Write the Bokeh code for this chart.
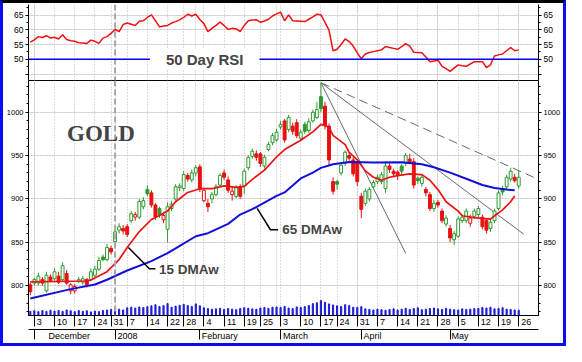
import math
from bokeh.plotting import figure
from bokeh.models import Range1d, LinearAxis, FixedTicker, Grid, Span, Label, ColumnDataSource
from bokeh.layouts import column
from bokeh.embed import file_html
from bokeh.resources import INLINE

# ---------------- data (trading-day index 0 = 3 Dec 2007) ----------------
day_index = list(range(-1, 121))
open_ = [801,
         803, 803, 807, 794, 810, 808, 811, 807, 814, 794,
         794, 805, 804, 807, 807, 812, 819, 833, 830, 843,
         851, 864, 866, 868, 875, 879, 879, 891, 911, 907,
         893, 889, 876, 865, 889, 900, 913, 912, 927, 922,
         930, 937, 898, 895, 900, 905, 916, 930, 922, 905,
         903, 914, 915, 936, 949, 952, 952, 938, 957, 965,
         968, 983, 990, 980, 984, 988, 970, 986, 979, 990,
         994, 1018, 1007, 984, 920, 920, 930, 941, 950, 945,
         943, 903, 895, 900, 914, 920, 920, 912, 938, 932,
         931, 938, 941, 946, 943, 924, 918, 911, 905, 889,
         896, 886, 871, 866, 853, 857, 875, 875, 872, 880,
         882, 879, 875, 866, 875, 889, 912, 914, 923, 925,
         915]
high = [804,
        809, 815, 810, 816, 813, 820, 816, 827, 818, 803,
        802, 810, 811, 809, 820, 823, 833, 836, 848, 846,
        866, 872, 870, 871, 886, 885, 900, 902, 916, 910,
        895, 891, 885, 896, 898, 917, 918, 932, 930, 934,
        939, 940, 913, 900, 908, 917, 930, 934, 926, 914,
        916, 917, 935, 950, 958, 956, 954, 951, 966, 976,
        981, 990, 992, 997, 988, 992, 980, 989, 993, 1003,
        1012, 1034, 1012, 987, 925, 922, 942, 956, 954, 948,
        946, 907, 912, 914, 922, 928, 931, 942, 941, 935,
        933, 940, 953, 952, 947, 926, 928, 914, 908, 899,
        899, 889, 881, 870, 863, 880, 882, 889, 882, 889,
        892, 882, 878, 876, 889, 910, 915, 928, 936, 929,
        933]
low = [789,
       800, 800, 800, 792, 804, 806, 802, 805, 801, 790,
       791, 803, 801, 798, 805, 810, 817, 828, 828, 836,
       849, 860, 859, 856, 872, 875, 877, 888, 903, 890,
       876, 878, 872, 850, 886, 898, 909, 909, 920, 919,
       926, 908, 896, 885, 895, 903, 914, 922, 907, 898,
       901, 900, 906, 933, 946, 944, 937, 935, 955, 962,
       966, 980, 965, 977, 974, 970, 967, 975, 976, 988,
       992, 1000, 980, 938, 905, 911, 927, 938, 944, 926,
       915, 878, 892, 897, 911, 917, 917, 907, 930, 925,
       922, 928, 938, 940, 912, 917, 914, 903, 886, 885,
       890, 872, 868, 850, 847, 855, 872, 872, 868, 877,
       879, 865, 860, 862, 872, 887, 904, 911, 920, 919,
       912]
close = [793,
         807, 811, 803, 812, 806, 816, 804, 823, 803, 801,
         799, 807, 808, 801, 816, 819, 829, 830, 844, 839,
         862, 868, 863, 859, 883, 882, 897, 898, 906, 893,
         879, 882, 881, 891, 894, 914, 915, 928, 923, 930,
         936, 911, 910, 891, 905, 914, 927, 925, 910, 909,
         913, 903, 932, 948, 955, 948, 941, 948, 963, 973,
         977, 986, 968, 994, 978, 973, 977, 978, 989, 1000,
         1003, 1004, 985, 945, 909, 917, 939, 954, 947, 929,
         920, 888, 909, 911, 919, 925, 928, 938, 934, 929,
         927, 932, 950, 943, 916, 921, 925, 907, 889, 895,
         893, 875, 878, 855, 860, 877, 879, 886, 878, 886,
         889, 868, 864, 873, 886, 907, 908, 925, 932, 921,
         925]
volume_k = [30,
            34, 28, 36, 30, 38, 32, 36, 30, 40, 34,
            28, 36, 30, 34, 26, 32, 28, 36, 40, 44,
            52, 46, 40, 56, 60, 54, 62, 58, 64, 70,
            78, 66, 72, 86, 60, 68, 74, 80, 72, 66,
            84, 70, 56, 50, 46, 48, 52, 44, 50, 46,
            42, 50, 56, 52, 48, 46, 54, 58, 52, 60,
            62, 58, 66, 54, 50, 62, 58, 64, 72, 86,
            92, 108, 96, 84, 76, 70, 66, 78, 72, 60,
            58, 64, 48, 44, 40, 46, 42, 38, 44, 48,
            40, 46, 52, 44, 50, 56, 42, 46, 50, 54,
            48, 44, 52, 46, 42, 40, 48, 44, 46, 50,
            52, 58, 54, 60, 48, 52, 56, 46, 44, 40,
            38]

rsi_val = [55.8,
           56.6, 57.7, 57.4, 58.0, 57.2, 57.5, 56.9, 58.3, 56.7, 56.3,
           56.1, 55.6, 55.5, 55.4, 56.5, 56.1, 55.4, 57.2, 57.7, 58.8,
           60.1, 59.4, 61.8, 62.3, 61.9, 61.5, 62.9, 63.1, 64.2, 65.1,
           63.1, 61.0, 61.3, 61.5, 62.3, 62.8, 63.4, 64.2, 65.3, 64.7,
           65.3, 63.5, 62.1, 59.4, 60.5, 61.5, 62.6, 61.5, 60.1, 60.5,
           60.3, 59.4, 61.5, 63.1, 63.3, 63.4, 62.6, 63.0, 63.6, 64.7,
           65.4, 66.0, 63.1, 65.1, 63.1, 63.0, 62.9, 62.8, 63.6, 64.4,
           65.3, 65.1, 62.5, 59.9, 52.9, 53.4, 55.0, 56.9, 56.0, 54.5,
           52.2, 50.2, 51.8, 52.3, 52.6, 52.9, 53.2, 54.3, 54.0, 53.7,
           53.4, 54.3, 55.3, 54.5, 52.4, 52.3, 52.2, 50.8, 49.2, 49.4,
           49.7, 47.6, 46.8, 45.9, 47.0, 48.1, 47.8, 47.6, 48.4, 49.2,
           49.2, 49.2, 47.2, 48.1, 51.1, 51.5, 51.8, 52.9, 54.0, 52.9,
           53.2]

ma15_idx = [-1, 13, 14, 18, 21, 23, 26, 29, 31, 33, 35, 38, 41, 44, 47, 50, 52, 54, 57, 60,
            62, 66, 69, 71, 73, 74, 77, 78, 80, 82, 84, 86, 88, 90, 93, 96, 98, 100, 102,
            105, 106, 109, 111, 113, 114, 116, 118, 119]
ma15_val = [804.3, 805.4, 806.5, 816.1, 830.1, 844.1, 862.4, 876.3, 881.0, 886.0, 896.8, 907.5,
            911.8, 911.8, 915.1, 913.4, 914.5, 922.6, 933.3, 948.4, 957.0, 967.7, 977.4, 986.0,
            982.8, 973.4, 962.7, 953.8, 945.2, 932.3, 925.0, 921.5, 925.0, 926.9, 929.0, 928.0,
            921.5, 910.8, 896.8, 886.0, 880.6, 878.5, 877.7, 876.7, 880.6, 887.4, 896.8, 903.5]
ma65_idx = [-1, 9, 15, 18, 23, 29, 33, 35, 40, 43, 48, 51, 54, 60, 62, 66, 69, 71, 74, 78,
            84, 91, 96, 99, 103, 107, 111, 114, 117, 119]
ma65_val = [785.3, 796.0, 801.4, 806.8, 817.5, 828.3, 837.6, 843.0, 857.0, 860.5, 871.3, 882.0,
            888.2, 903.5, 907.5, 923.7, 930.4, 935.8, 940.1, 942.5, 942.0, 942.3, 940.1, 936.6,
            930.4, 923.3, 916.1, 912.6, 910.8, 910.0]

week_ticks = [0, 5, 10, 15, 19, 23, 28, 33, 37, 42, 47, 52, 56, 61, 66, 71, 75, 80, 85, 90,
              95, 100, 105, 110, 115, 120]
week_labels = ["3", "10", "17", "24", "31", "7", "14", "22", "28", "4", "11", "19", "25", "3",
               "10", "17", "24", "31", "7", "14", "21", "28", "5", "12", "19", "26"]
month_ticks = [0, 20, 41, 61, 81, 103]
month_labels = ["December", "2008", "February", "March", "April", "May"]
year_start = 20

price_ticks = [800, 850, 900, 950, 1000]
rsi_ticks = [45, 50, 55, 60, 65]

trend_from = (71, 1034)
trend_to = [(92.0, 837.3), (121.2, 859.5)]
trend_dashed_to = (124.0, 924.4)

# ---------------- styling ----------------
FONT = "Liberation Sans"
GREEN = "#2f9a2f"
RED = "#e81010"
MA_RED = "#ee1111"
MA_BLUE = "#1010d8"
GRID = "#b8b8b8"
W = 560
LB, RB = 24, 24

W_EM = {**{d: 0.556 for d in "0123456789"}, "D": .722, "e": .556, "c": .5, "m": .833,
        "b": .556, "r": .333, "F": .611, "u": .556, "a": .556, "y": .5, "M": .833,
        "h": .556, "A": .667, "p": .556, "i": .222, "l": .222}


def lpad(s, size, gap=2.0):
    w = sum(W_EM.get(ch, .55) for ch in s) * size
    n = max(0, int(round((w + 2 * gap) / (0.278 * size))))
    return "\u00a0" * n + s


def style_axis(ax, size):
    ax.axis_line_color = "black"
    ax.major_tick_line_color = "black"
    ax.minor_tick_line_color = "black"
    ax.major_tick_in = 0
    ax.major_tick_out = 3
    ax.minor_tick_in = 0
    ax.minor_tick_out = 2
    ax.major_label_text_font = FONT
    ax.major_label_text_font_size = size
    ax.major_label_text_color = "black"
    ax.major_label_standoff = 2


xr = Range1d(-1.45, 124.9)

# ---------------- RSI panel ----------------
rsi = figure(width=W, height=77, x_range=xr, y_range=Range1d(42.8, 68.6),
             output_backend="svg", toolbar_location=None,
             x_axis_location=None, y_axis_location=None,
             min_border_left=LB, min_border_right=RB, min_border_top=1, min_border_bottom=0,
             outline_line_color=None, background_fill_color="white",
             border_fill_color="white")
rsi.add_layout(Grid(dimension=0, ticker=FixedTicker(ticks=week_ticks), grid_line_color=GRID,
                    grid_line_dash="1 2"))
rsi.add_layout(Grid(dimension=1, ticker=FixedTicker(ticks=[t for t in rsi_ticks if t != 50]),
                    grid_line_color=GRID, grid_line_dash="1 2"))
for side in ("left", "right"):
    ax = LinearAxis(ticker=FixedTicker(ticks=rsi_ticks,
                                       minor_ticks=[t + 2.5 for t in rsi_ticks[:-1]] + [42.5, 67.5]),
                    major_label_overrides={45: ""})
    style_axis(ax, "8.5px")
    rsi.add_layout(ax, side)
rsi.add_layout(Span(location=year_start, dimension="height", line_color="#a8a8a8",
                    line_dash="6 3", line_width=2))
rsi.add_layout(Span(location=50, dimension="width", line_color="#0000ff", line_width=1.6))
rsi.line(day_index, rsi_val, color=MA_RED, line_width=1.5)
rsi.add_layout(Label(x=42.2, y=50, text="50 Day RSI", text_font=FONT, text_font_size="15px",
                     text_font_style="bold", text_align="center", text_baseline="middle",
                     background_fill_color="white", padding=(16, 2)))

# ---------------- price panel ----------------
price = figure(width=W, height=263, x_range=xr, y_range=Range1d(765.6, 1036.6),
               output_backend="svg", toolbar_location=None,
               x_axis_location=None, y_axis_location=None,
               min_border_left=LB, min_border_right=RB, min_border_top=0, min_border_bottom=0,
               outline_line_color="black", background_fill_color="white",
               border_fill_color="white")
price.extra_y_ranges = {"vol": Range1d(0, 1700)}
price.add_layout(Grid(dimension=0, ticker=FixedTicker(ticks=week_ticks), grid_line_color=GRID,
                      grid_line_dash="1 2"))
price.add_layout(Grid(dimension=1, ticker=FixedTicker(ticks=price_ticks), grid_line_color=GRID,
                      grid_line_dash="1 2"))
for side in ("left", "right"):
    ax = LinearAxis(ticker=FixedTicker(ticks=price_ticks,
                                       minor_ticks=list(range(770, 1040, 10))))
    style_axis(ax, "7.5px")
    price.add_layout(ax, side)

day_axis = LinearAxis(ticker=FixedTicker(ticks=week_ticks),
                      major_label_overrides={t: lpad(s, 9) for t, s in zip(week_ticks, week_labels)})
style_axis(day_axis, "9px")
day_axis.major_tick_out = 11
day_axis.minor_tick_out = 0
day_axis.major_label_standoff = -10
price.add_layout(day_axis, "below")
month_axis = LinearAxis(ticker=FixedTicker(ticks=month_ticks),
                        major_label_overrides={t: lpad(s, 9) for t, s in zip(month_ticks, month_labels)})
style_axis(month_axis, "9px")
month_axis.major_tick_out = 10
month_axis.minor_tick_out = 0
month_axis.major_label_standoff = -9
price.add_layout(month_axis, "below")

price.add_layout(Span(location=year_start, dimension="height", line_color="#a8a8a8",
                      line_dash="6 3", line_width=2))

# volume
price.vbar(x=day_index, top=volume_k, bottom=0, width=0.28, color="#1c1cd8",
           y_range_name="vol")

# trend lines
for (tx, ty) in trend_to:
    price.line([trend_from[0], tx], [trend_from[1], ty], color="#6a6a6a", line_width=1)
price.line([trend_from[0], trend_dashed_to[0]], [trend_from[1], trend_dashed_to[1]],
           color="#6a6a6a", line_width=1, line_dash="9 5")

# candles
colors, fills, tops, bots = [], [], [], []
for k in range(len(close)):
    prev = close[k - 1] if k > 0 else open_[k]
    col = GREEN if close[k] >= prev else RED
    colors.append(col)
    fills.append("white" if close[k] > open_[k] else col)
    tops.append(max(open_[k], close[k]))
    bots.append(min(open_[k], close[k]))
src = ColumnDataSource(dict(x=day_index, o=open_, h=high, l=low, c=close,
                            color=colors, fill=fills, top=tops, bot=bots))
price.segment(x0="x", y0="l", x1="x", y1="h", line_color="color", line_width=1, source=src)
price.vbar(x="x", top="top", bottom="bot", width=0.72, fill_color="fill", line_color="color",
           line_width=1, source=src)

# moving averages
price.line(ma15_idx, ma15_val, color=MA_RED, line_width=1.7)
price.line(ma65_idx, ma65_val, color=MA_BLUE, line_width=2)

# labels and leader lines
price.line([23.3, 28.5, 30.0], [844.1, 819.4, 819.4], color="black", line_width=1.5)
price.line([55.2, 58.5, 60.4], [889.2, 864.5, 864.5], color="black", line_width=1.5)
price.add_layout(Label(x=30.9, y=818.5, text="15 DMAw", text_font=FONT, text_font_size="13.5px",
                       text_font_style="bold", text_align="left", text_baseline="middle"))
price.add_layout(Label(x=61.4, y=864.5, text="65 DMAw", text_font=FONT, text_font_size="13.5px",
                       text_font_style="bold", text_align="left", text_baseline="middle"))
price.add_layout(Label(x=16.5, y=976, text="GOLD", text_font="Liberation Serif",
                       text_font_size="23px", text_font_style="bold", text_align="center",
                       text_baseline="middle"))

layout = column(rsi, price, spacing=0,
                styles={"border-top": "3px solid #000000",
                        "border-left": "3px solid #0c0cf0",
                        "border-right": "3px solid #0c0cf0",
                        "border-bottom": "3px solid #0c0cf0",
                        "background-color": "white"})

open("out.html", "w").write(file_html(layout, INLINE))
